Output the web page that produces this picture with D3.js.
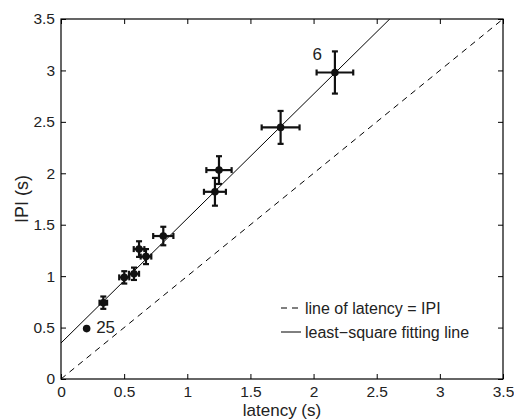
<!DOCTYPE html>
<html lang="en">
<head>
<meta charset="UTF-8">
<title>IPI vs latency</title>
<script src="https://d3js.org/d3.v7.min.js"></script>
<style>
  body { margin: 0; background: #fff; }
  text { font-family: "Liberation Sans", Arial, sans-serif; fill: #222; }
</style>
</head>
<body>
<svg width="514" height="419"></svg>
<script>
    // values
    const latency = [0.203, 0.335, 0.501, 0.578, 0.618, 0.673, 0.81, 1.219, 1.251, 1.739, 2.169];
    const ipi     = [0.49, 0.742, 0.988, 1.023, 1.263, 1.19, 1.39, 1.82, 2.031, 2.446, 2.98];
    const xErr    = [0, 0.03, 0.04, 0.04, 0.042, 0.042, 0.08, 0.087, 0.1, 0.15, 0.145];
    const yErr    = [0, 0.06, 0.06, 0.06, 0.076, 0.073, 0.09, 0.135, 0.135, 0.16, 0.205];
    const ticks = [0, 0.5, 1, 1.5, 2, 2.5, 3, 3.5];
    const fitIntercept = 0.35;
    const fitSlope = 1.21;
    const legendLabels = ["line of latency = IPI", "least\u2212square fitting line"];
    const pointLabels = [{i: 0, text: "25"}, {i: 10, text: "6"}];

    const svg = d3.select("svg");
    const mLeft = 61, mRight = 503, mTop = 19, mBottom = 379;

    const x = d3.scaleLinear().domain([0, 3.5]).range([mLeft, mRight]);
    const y = d3.scaleLinear().domain([0, 3.5]).range([mBottom, mTop]);

    svg.append("clipPath").attr("id", "clip")
        .append("rect").attr("x", mLeft).attr("y", mTop)
        .attr("width", mRight - mLeft).attr("height", mBottom - mTop);

    const plot = svg.append("g").attr("clip-path", "url(#clip)");

    // y = x reference
    plot.append("line")
        .attr("x1", x(0)).attr("y1", y(0))
        .attr("x2", x(3.5)).attr("y2", y(3.5))
        .attr("stroke", "#000").attr("stroke-width", 1)
        .attr("stroke-dasharray", "6,5");

    // least-square fit
    const xEnd = (3.5 - fitIntercept) / fitSlope;
    plot.append("line")
        .attr("x1", x(0)).attr("y1", y(fitIntercept))
        .attr("x2", x(xEnd)).attr("y2", y(3.5))
        .attr("stroke", "#000").attr("stroke-width", 1);

    const pts = latency.map((v, i) => ({x: v, y: ipi[i], ex: xErr[i], ey: yErr[i]}));
    const cap = 3;

    const eb = svg.append("g").attr("stroke", "#111").attr("stroke-width", 2.2);
    pts.filter(d => d.ex > 0 || d.ey > 0).forEach(d => {
        const cx = x(d.x), cy = y(d.y);
        const x0 = x(d.x - d.ex), x1 = x(d.x + d.ex);
        const y0 = y(d.y - d.ey), y1 = y(d.y + d.ey);
        eb.append("line").attr("x1", x0).attr("x2", x1).attr("y1", cy).attr("y2", cy);
        eb.append("line").attr("x1", x0).attr("x2", x0).attr("y1", cy - cap).attr("y2", cy + cap);
        eb.append("line").attr("x1", x1).attr("x2", x1).attr("y1", cy - cap).attr("y2", cy + cap);
        eb.append("line").attr("x1", cx).attr("x2", cx).attr("y1", y0).attr("y2", y1);
        eb.append("line").attr("x1", cx - cap).attr("x2", cx + cap).attr("y1", y0).attr("y2", y0);
        eb.append("line").attr("x1", cx - cap).attr("x2", cx + cap).attr("y1", y1).attr("y2", y1);
    });

    svg.append("g").selectAll("circle").data(pts).join("circle")
        .attr("cx", d => x(d.x)).attr("cy", d => y(d.y))
        .attr("r", 3.8).attr("fill", "#111");

    // point labels
    svg.append("text").attr("x", x(latency[0]) + 9.5).attr("y", y(ipi[0]) + 4.5)
        .attr("font-size", 17).text(pointLabels[0].text);
    svg.append("text").attr("x", x(latency[10]) - 13).attr("y", y(ipi[10]) - 12)
        .attr("font-size", 17).attr("text-anchor", "end").text(pointLabels[1].text);

    // axes box with inward ticks
    const tl = 5;
    svg.append("g").attr("transform", `translate(0,${mBottom})`)
        .call(d3.axisBottom(x).tickValues(ticks).tickSize(-tl).tickPadding(7).tickFormat(d3.format("")))
        .call(g => g.select(".domain").remove());
    svg.append("g").attr("transform", `translate(0,${mTop})`)
        .call(d3.axisTop(x).tickValues(ticks).tickSize(-tl).tickFormat(""))
        .call(g => g.select(".domain").remove());
    svg.append("g").attr("transform", `translate(${mLeft},0)`)
        .call(d3.axisLeft(y).tickValues(ticks).tickSize(-tl).tickPadding(6).tickFormat(d3.format("")))
        .call(g => g.select(".domain").remove());
    svg.append("g").attr("transform", `translate(${mRight},0)`)
        .call(d3.axisRight(y).tickValues(ticks).tickSize(-tl).tickFormat(""))
        .call(g => g.select(".domain").remove());

    svg.selectAll(".tick text").attr("font-size", 15.5).attr("fill", "#222")
        .attr("font-family", "Liberation Sans, Arial, sans-serif");
    svg.selectAll(".tick line").attr("stroke", "#000");

    svg.append("rect").attr("x", mLeft).attr("y", mTop)
        .attr("width", mRight - mLeft).attr("height", mBottom - mTop)
        .attr("fill", "none").attr("stroke", "#000").attr("stroke-width", 1.2);

    // legend
    const lg = svg.append("g").attr("transform", "translate(281,308)");
    legendLabels.forEach((t, i) => {
        lg.append("line").attr("x1", 0).attr("x2", 20).attr("y1", i * 24).attr("y2", i * 24)
            .attr("stroke", "#000").attr("stroke-width", 1)
            .attr("stroke-dasharray", i === 0 ? "6,5" : null);
        lg.append("text").attr("x", 24).attr("y", i * 24 + 5.5)
            .attr("font-size", 16).text(t);
    });

    // axis labels
    svg.append("text").attr("x", (mLeft + mRight) / 2).attr("y", 416)
        .attr("text-anchor", "middle").attr("font-size", 17).text("latency (s)");
    svg.append("text").attr("transform", `translate(28,${(mTop + mBottom) / 2}) rotate(-90)`)
        .attr("text-anchor", "middle").attr("font-size", 18).text("IPI (s)");
</script>
</body>
</html>
